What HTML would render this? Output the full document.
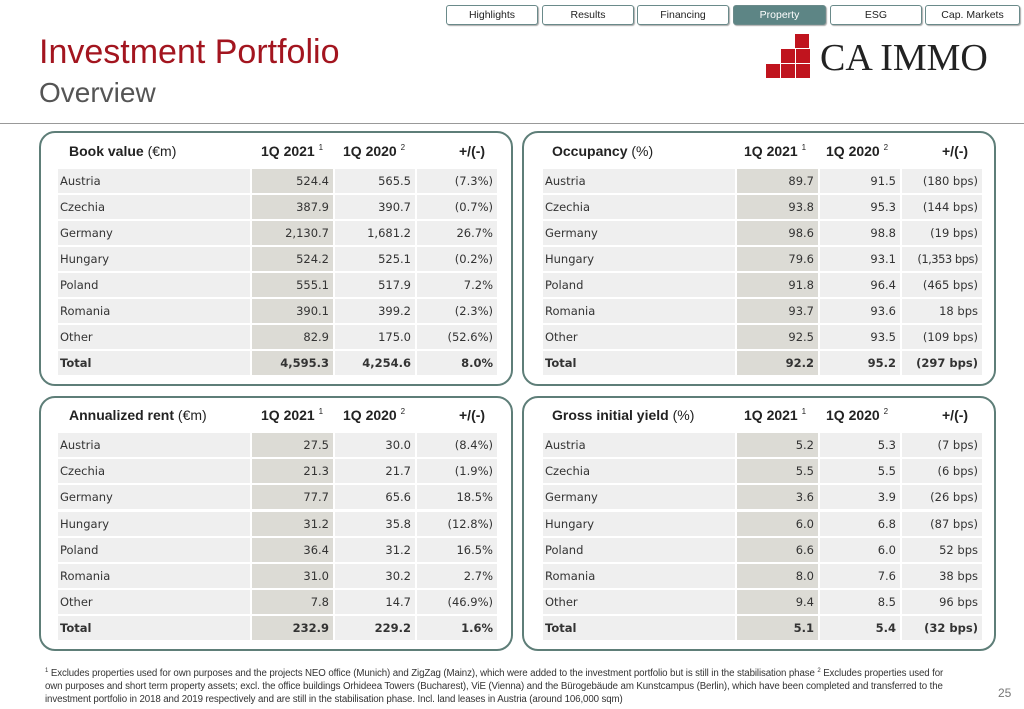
<!DOCTYPE html>
<html><head><meta charset="utf-8"><style>
*{margin:0;padding:0;box-sizing:border-box}
body{width:1024px;height:709px;background:#fff;position:relative;overflow:hidden;font-family:"Liberation Sans",sans-serif}
.tab{position:absolute;top:5px;height:20px;border:1px solid #6a8a8a;border-radius:3px;font-size:10.5px;text-align:center;line-height:18px;color:#222;background:#fff;box-shadow:1px 1px 1px #aaa}
.tab.on{background:#5d8585;color:#fff}
.box{position:absolute;border:2px solid #5e7e78;border-radius:16px;width:474px;height:255px}
.hdr{position:absolute;font-size:14px;color:#222;white-space:nowrap}
.hdr b{font-weight:bold}
.hdr sup{font-size:8px;vertical-align:6px;font-weight:normal}
.row{position:absolute;height:24px;display:flex;gap:2px;font-family:"DejaVu Sans",sans-serif;font-size:11.5px;color:#333}
.row div{background:#efefef;line-height:24px;padding:0 4px;text-align:right}
.row div:first-child{text-align:left;width:192px;padding-left:2px}
.row div.c1{background:#dcdbd5;width:81px}
.row div.c2{width:80px}.row div.c3{width:80px}
.row.t{font-weight:bold}
.foot{position:absolute;left:45px;font-size:9.7px;color:#333;white-space:nowrap;letter-spacing:-0.1px}
</style></head><body>
<div class="tab" style="left:446px;width:92px">Highlights</div>
<div class="tab" style="left:542px;width:92px">Results</div>
<div class="tab" style="left:637px;width:92px">Financing</div>
<div class="tab on" style="left:733px;width:93px">Property</div>
<div class="tab" style="left:830px;width:92px">ESG</div>
<div class="tab" style="left:925px;width:95px">Cap. Markets</div>

<div style="position:absolute;left:39px;top:33px;font-size:34px;color:#a3151f">Investment Portfolio</div>
<div style="position:absolute;left:39px;top:77px;font-size:28px;color:#555">Overview</div>

<svg style="position:absolute;left:766px;top:34px" width="46" height="46">
<g fill="#c0141e">
<rect x="29" y="0" width="14" height="14"/>
<rect x="15" y="15" width="14" height="14"/><rect x="30" y="15" width="14" height="14"/>
<rect x="0" y="30" width="14" height="14"/><rect x="15" y="30" width="14" height="14"/><rect x="30" y="30" width="14" height="14"/>
</g></svg>
<div style="position:absolute;left:820px;top:36px;font-family:'Liberation Serif',serif;font-size:38px;color:#222">CA IMMO</div>

<div style="position:absolute;left:0;top:123px;width:1024px;height:1px;background:#999"></div>

<div class="box" style="left:39px;top:131px"></div>
<div class="box" style="left:522px;top:131px"></div>
<div class="box" style="left:39px;top:396px"></div>
<div class="box" style="left:522px;top:396px"></div>

<!-- Box 1 -->
<div class="hdr" style="left:69px;top:143px"><b>Book value</b> (€m)</div>
<div class="hdr" style="left:261px;top:143px"><b>1Q 2021</b> <sup>1</sup></div>
<div class="hdr" style="left:343px;top:143px"><b>1Q 2020</b> <sup>2</sup></div>
<div class="hdr" style="left:459px;top:143px"><b>+/(-)</b></div>
<div class="row" style="left:58px;top:169px"><div>Austria</div><div class="c1">524.4</div><div class="c2">565.5</div><div class="c3">(7.3%)</div></div>
<div class="row" style="left:58px;top:195px"><div>Czechia</div><div class="c1">387.9</div><div class="c2">390.7</div><div class="c3">(0.7%)</div></div>
<div class="row" style="left:58px;top:221px"><div>Germany</div><div class="c1">2,130.7</div><div class="c2">1,681.2</div><div class="c3">26.7%</div></div>
<div class="row" style="left:58px;top:247px"><div>Hungary</div><div class="c1">524.2</div><div class="c2">525.1</div><div class="c3">(0.2%)</div></div>
<div class="row" style="left:58px;top:273px"><div>Poland</div><div class="c1">555.1</div><div class="c2">517.9</div><div class="c3">7.2%</div></div>
<div class="row" style="left:58px;top:299px"><div>Romania</div><div class="c1">390.1</div><div class="c2">399.2</div><div class="c3">(2.3%)</div></div>
<div class="row" style="left:58px;top:325px"><div>Other</div><div class="c1">82.9</div><div class="c2">175.0</div><div class="c3">(52.6%)</div></div>
<div class="row t" style="left:58px;top:351px"><div>Total</div><div class="c1">4,595.3</div><div class="c2">4,254.6</div><div class="c3">8.0%</div></div>

<!-- Box 2 -->
<div class="hdr" style="left:552px;top:143px"><b>Occupancy</b> (%)</div>
<div class="hdr" style="left:744px;top:143px"><b>1Q 2021</b> <sup>1</sup></div>
<div class="hdr" style="left:826px;top:143px"><b>1Q 2020</b> <sup>2</sup></div>
<div class="hdr" style="left:942px;top:143px"><b>+/(-)</b></div>
<div class="row" style="left:543px;top:169px"><div>Austria</div><div class="c1">89.7</div><div class="c2">91.5</div><div class="c3">(180 bps)</div></div>
<div class="row" style="left:543px;top:195px"><div>Czechia</div><div class="c1">93.8</div><div class="c2">95.3</div><div class="c3">(144 bps)</div></div>
<div class="row" style="left:543px;top:221px"><div>Germany</div><div class="c1">98.6</div><div class="c2">98.8</div><div class="c3">(19 bps)</div></div>
<div class="row" style="left:543px;top:247px"><div>Hungary</div><div class="c1">79.6</div><div class="c2">93.1</div><div class="c3" style="letter-spacing:-0.5px">(1,353 bps)</div></div>
<div class="row" style="left:543px;top:273px"><div>Poland</div><div class="c1">91.8</div><div class="c2">96.4</div><div class="c3">(465 bps)</div></div>
<div class="row" style="left:543px;top:299px"><div>Romania</div><div class="c1">93.7</div><div class="c2">93.6</div><div class="c3">18 bps</div></div>
<div class="row" style="left:543px;top:325px"><div>Other</div><div class="c1">92.5</div><div class="c2">93.5</div><div class="c3">(109 bps)</div></div>
<div class="row t" style="left:543px;top:351px"><div>Total</div><div class="c1">92.2</div><div class="c2">95.2</div><div class="c3">(297 bps)</div></div>

<!-- Box 3 -->
<div class="hdr" style="left:69px;top:407px"><b>Annualized rent</b> (€m)</div>
<div class="hdr" style="left:261px;top:407px"><b>1Q 2021</b> <sup>1</sup></div>
<div class="hdr" style="left:343px;top:407px"><b>1Q 2020</b> <sup>2</sup></div>
<div class="hdr" style="left:459px;top:407px"><b>+/(-)</b></div>
<div class="row" style="left:58px;top:433px"><div>Austria</div><div class="c1">27.5</div><div class="c2">30.0</div><div class="c3">(8.4%)</div></div>
<div class="row" style="left:58px;top:459px"><div>Czechia</div><div class="c1">21.3</div><div class="c2">21.7</div><div class="c3">(1.9%)</div></div>
<div class="row" style="left:58px;top:485px"><div>Germany</div><div class="c1">77.7</div><div class="c2">65.6</div><div class="c3">18.5%</div></div>
<div class="row" style="left:58px;top:512px"><div>Hungary</div><div class="c1">31.2</div><div class="c2">35.8</div><div class="c3">(12.8%)</div></div>
<div class="row" style="left:58px;top:538px"><div>Poland</div><div class="c1">36.4</div><div class="c2">31.2</div><div class="c3">16.5%</div></div>
<div class="row" style="left:58px;top:564px"><div>Romania</div><div class="c1">31.0</div><div class="c2">30.2</div><div class="c3">2.7%</div></div>
<div class="row" style="left:58px;top:590px"><div>Other</div><div class="c1">7.8</div><div class="c2">14.7</div><div class="c3">(46.9%)</div></div>
<div class="row t" style="left:58px;top:616px"><div>Total</div><div class="c1">232.9</div><div class="c2">229.2</div><div class="c3">1.6%</div></div>

<!-- Box 4 -->
<div class="hdr" style="left:552px;top:407px"><b>Gross initial yield</b> (%)</div>
<div class="hdr" style="left:744px;top:407px"><b>1Q 2021</b> <sup>1</sup></div>
<div class="hdr" style="left:826px;top:407px"><b>1Q 2020</b> <sup>2</sup></div>
<div class="hdr" style="left:942px;top:407px"><b>+/(-)</b></div>
<div class="row" style="left:543px;top:433px"><div>Austria</div><div class="c1">5.2</div><div class="c2">5.3</div><div class="c3">(7 bps)</div></div>
<div class="row" style="left:543px;top:459px"><div>Czechia</div><div class="c1">5.5</div><div class="c2">5.5</div><div class="c3">(6 bps)</div></div>
<div class="row" style="left:543px;top:485px"><div>Germany</div><div class="c1">3.6</div><div class="c2">3.9</div><div class="c3">(26 bps)</div></div>
<div class="row" style="left:543px;top:512px"><div>Hungary</div><div class="c1">6.0</div><div class="c2">6.8</div><div class="c3">(87 bps)</div></div>
<div class="row" style="left:543px;top:538px"><div>Poland</div><div class="c1">6.6</div><div class="c2">6.0</div><div class="c3">52 bps</div></div>
<div class="row" style="left:543px;top:564px"><div>Romania</div><div class="c1">8.0</div><div class="c2">7.6</div><div class="c3">38 bps</div></div>
<div class="row" style="left:543px;top:590px"><div>Other</div><div class="c1">9.4</div><div class="c2">8.5</div><div class="c3">96 bps</div></div>
<div class="row t" style="left:543px;top:616px"><div>Total</div><div class="c1">5.1</div><div class="c2">5.4</div><div class="c3">(32 bps)</div></div>

<div class="foot" style="top:668px"><sup style="font-size:6px">1</sup> Excludes  properties used for own purposes and the projects NEO office (Munich) and ZigZag (Mainz), which were added to the investment portfolio but is still in the stabilisation phase  <sup style="font-size:6px">2</sup> Excludes properties used for</div>
<div class="foot" style="top:681px">own purposes and short term property assets; excl. the office buildings Orhideea Towers (Bucharest), ViE (Vienna) and the Bürogebäude am Kunstcampus (Berlin), which have been completed and transferred to the</div>
<div class="foot" style="top:694px">investment portfolio in 2018 and 2019 respectively and are still in the stabilisation phase. Incl. land leases in Austria (around 106,000 sqm)</div>
<div style="position:absolute;left:998px;top:686px;font-size:12px;color:#777">25</div>
</body></html>
